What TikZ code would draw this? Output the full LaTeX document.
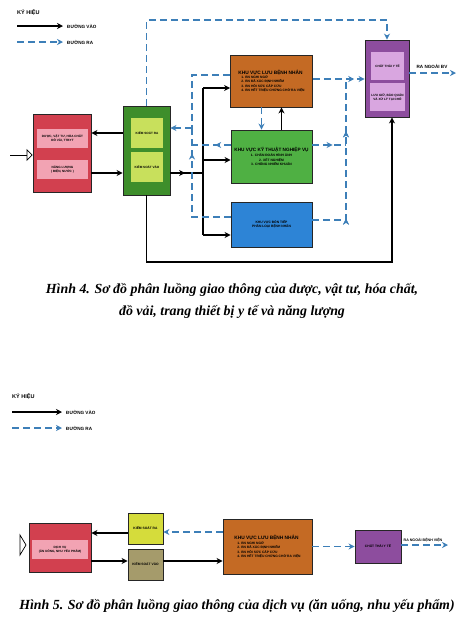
\documentclass[tikz,border=0pt]{standalone}
\usepackage{fontspec}
\setmainfont{Liberation Serif}
\newfontfamily\boxfont{Liberation Sans}
\usetikzlibrary{arrows.meta,calc,decorations.markings}
\definecolor{dashblue}{HTML}{3D7FB8}
\definecolor{redzone}{HTML}{D2404F}
\definecolor{pinkpanel}{HTML}{F2A3B3}
\definecolor{ctrlgreen}{HTML}{3E8E2B}
\definecolor{limepanel}{HTML}{C8E05C}
\definecolor{orzone}{HTML}{C46A24}
\definecolor{techgreen}{HTML}{4FB043}
\definecolor{bluezone}{HTML}{2D84D6}
\definecolor{purzone}{HTML}{8D4D9E}
\definecolor{purpanel}{HTML}{D9A6E0}
\definecolor{ksra}{HTML}{D5DC3B}
\definecolor{ksvao}{HTML}{A59B6B}

\begin{document}
\begin{tikzpicture}[
  x=1pt, y=-1pt,
  >=Stealth,
  zone/.style={draw=black!85, line width=0.9pt, inner sep=1pt, align=center,
    font=\boxfont\bfseries\fontsize{3.3}{4.2}\selectfont},
  panel/.style={inner sep=1pt, align=center, font=\boxfont\bfseries\fontsize{3.1}{4}\selectfont},
  keytitle/.style={inner sep=1pt, font=\boxfont\bfseries\fontsize{5.5}{6}\selectfont},
  keytxt/.style={inner sep=1pt, font=\boxfont\bfseries\fontsize{4.6}{5}\selectfont},
  caption/.style={inner sep=0pt, font=\bfseries\itshape\fontsize{13.9}{15}\selectfont},
  solidline/.style={draw=black, line width=1.2pt},
  solidarr/.style={solidline, -{Stealth[length=6pt,width=6pt]}},
  dashline/.style={draw=dashblue, line width=1.5pt, dash pattern=on 7pt off 4pt},
  dasharr/.style={dashline, -{Stealth[length=6pt,width=6pt]}},
  midarrow/.style={postaction={decorate}, decoration={markings,
    mark=at position #1 with {\arrow{Stealth[length=6pt,width=6pt]}}}}
]
  \useasboundingbox (0,0) rectangle (463,641);

  % ---- Hinh 4 ----
  \node[keytitle, anchor=west] (key4) at (16,13) {KÝ HIỆU};
  \node[keytxt, anchor=west] (kin4) at (66,26) {ĐƯỜNG VÀO};
  \node[keytxt, anchor=west] (kout4) at (66,42) {ĐƯỜNG RA};
  \coordinate (ks4) at (17,26);
  \coordinate (kd4) at (17,42);
  \draw[solidarr, shorten >=3pt] (ks4) -- (kin4.west);
  \draw[dasharr, shorten >=3pt] (kd4) -- (kout4.west);

  \node[zone, fill=redzone, minimum width=58pt, minimum height=78pt] (rb4) at (62,153) {};
  \node[panel, fill=pinkpanel, minimum width=51pt, minimum height=19pt] (rp1) at (62.5,138.5) {DƯỢC, VẬT TƯ, HÓA CHẤT\\ ĐỒ VẢI, TTBYT};
  \node[panel, fill=pinkpanel, minimum width=51pt, minimum height=19pt] (rp2) at (62.5,169.5) {NĂNG LƯỢNG\\ ( ĐIỆN, NƯỚC )};

  \node[zone, fill=ctrlgreen, minimum width=47pt, minimum height=89pt] (gb4) at (146.5,150.5) {};
  \node[panel, fill=limepanel, minimum width=32pt, minimum height=30pt] (gp1) at (147,133) {KIỂM SOÁT RA};
  \node[panel, fill=limepanel, minimum width=32pt, minimum height=30pt] (gp2) at (147,167) {KIỂM SOÁT VÀO};

  \node[zone, fill=orzone, minimum width=82pt, minimum height=52pt, align=left] (ob4) at (271.5,81)
    {{\fontsize{4.8}{6}\selectfont KHU VỰC LƯU BỆNH NHÂN}\\
     \hspace*{3pt}1. BN NGHI NGỜ\\ \hspace*{3pt}2. BN ĐÃ XÁC ĐỊNH NHIỄM\\
     \hspace*{3pt}3. BN HỒI SỨC CẤP CỨU\\ \hspace*{3pt}4. BN HẾT TRIỆU CHỨNG CHỜ RA VIỆN};
  \node[zone, fill=techgreen, minimum width=81pt, minimum height=53pt] (kb4) at (271.5,156.5)
    {{\fontsize{4.7}{6}\selectfont KHU VỰC KỸ THUẬT NGHIỆP VỤ}\\[1pt]
     1. CHẨN ĐOÁN HÌNH ẢNH\\ 2. XÉT NGHIỆM\\ 3. CHỐNG NHIỄM KHUẨN};
  \node[zone, fill=bluezone, minimum width=81pt, minimum height=45pt] (bb4) at (271.5,224.5)
    {KHU VỰC ĐÓN TIẾP\\ PHÂN LOẠI BỆNH NHÂN};

  \node[zone, fill=purzone, minimum width=44pt, minimum height=77pt] (pb4) at (387,78.5) {};
  \node[panel, fill=purpanel, minimum width=33pt, minimum height=28pt] (pp1) at (387.5,66) {CHẤT THẢI Y TẾ};
  \node[panel, fill=purpanel, minimum width=33pt, minimum height=28pt] (pp2) at (387.5,97) {LƯU GIỮ, BẢO QUẢN\\ VÀ XỬ LÝ TẠI CHỖ};
  \node[keytxt] (raout4) at (432,66) {RA NGOÀI BV};

  \coordinate (in4) at (10,155);
  \coordinate (busT) at (203,88);
  \coordinate (busM) at (203,160);
  \coordinate (busB) at (203,235);
  \coordinate (colL) at (192,128);
  \coordinate (colR) at (346,79);
  \coordinate (topR) at (387,20);
  \coordinate (botR) at (392,262);
  \coordinate (out4) at (456,73);
  \coordinate (gv4) at ($(gb4.east)+(0,22.5)$);
  \coordinate (oL) at ($(ob4.west)+(0,-6)$);
  \coordinate (kL) at ($(kb4.west)+(0,-11.5)$);
  \coordinate (bL) at ($(bb4.west)+(0,-7.5)$);
  \coordinate (oR) at ($(ob4.east)+(0,-2)$);
  \coordinate (kR) at ($(kb4.east)+(0,-11.5)$);
  \coordinate (bR) at ($(bb4.east)+(0,-4.5)$);

  \draw[line width=0.7pt, -{Triangle[open,length=6pt,width=12pt]}] (in4) -- (in4 -| rb4.west);
  \draw[solidarr] (gp1 -| gb4.west) -- (gp1 -| rb4.east);
  \draw[solidarr] ($(rb4.east)+(0,20)$) -- ($(gb4.west)+(0,22.5)$);
  \draw[solidline, midarrow=0.45] (gv4) -- (gv4 -| busT);
  \draw[solidline] (busT) -- (busB);
  \draw[solidarr] (busT) -- (busT -| ob4.west);
  \draw[solidarr] (busM) -- (busM -| kb4.west);
  \draw[solidarr] (busB) -- (busB -| bb4.west);
  \draw[solidarr] ($(kb4.north)+(10,0)$) -- ($(ob4.south)+(10,0)$);
  \draw[dasharr] ($(ob4.south)+(-10,0)$) -- ($(kb4.north)+(-10,0)$);
  \draw[solidarr] (gb4.south) |- (botR) -- (botR |- pb4.south);
  \draw[dasharr] (gb4.north) |- (topR) -- (pb4.north);

  % dashed returns to kiem soat ra
  \draw[dashline] (oL) -| (colL);
  \draw[dashline, midarrow=0.4] (kL) -- (kL -| colL);
  \draw[dashline, midarrow=0.8] (bL) -| (colL);
  \draw[dasharr] (colL) -- (colL -| gb4.east);

  % dashed to chat thai
  \draw[dasharr, midarrow=0.8] (oR) -- (colR) -- (colR -| pb4.west);
  \draw[dashline, midarrow=0.6] (kR) -- (kR -| colR);
  \draw[dashline, midarrow=0.2, midarrow=0.7] (bR) -| (colR);
  \draw[dasharr] ($(pb4.east)+(0,-5.5)$) -- (out4);

  \node[caption] (cap4a) at (232,290) {Hình 4. Sơ đồ phân luồng giao thông của dược, vật tư, hóa chất,};
  \node[caption] (cap4b) at (232,312) {đồ vải, trang thiết bị y tế và năng lượng};

  % ---- Hinh 5 ----
  \node[keytitle, anchor=west] (key5) at (11,397) {KÝ HIỆU};
  \node[keytxt, anchor=west] (kin5) at (65,412) {ĐƯỜNG VÀO};
  \node[keytxt, anchor=west] (kout5) at (65,428) {ĐƯỜNG RA};
  \coordinate (ks5) at (12,412);
  \coordinate (kd5) at (12,428);
  \draw[solidarr, shorten >=3pt] (ks5) -- (kin5.west);
  \draw[dasharr, shorten >=3pt] (kd5) -- (kout5.west);

  \node[zone, fill=redzone, minimum width=62pt, minimum height=49pt] (rb5) at (60,547.5) {};
  \node[panel, fill=pinkpanel, minimum width=56pt, minimum height=19pt] (rp5) at (60,549.5) {DỊCH VỤ\\ (ĂN UỐNG, NHU YẾU PHẨM)};
  \node[zone, fill=ksra, minimum width=35pt, minimum height=31pt] (kr5) at (145.5,528.5) {KIỂM SOÁT RA};
  \node[zone, fill=ksvao, minimum width=35pt, minimum height=31pt] (kv5) at (145.5,564.5) {KIỂM SOÁT VÀO};
  \node[zone, fill=orzone, minimum width=89pt, minimum height=55pt, align=left] (ob5) at (267.5,546.5)
    {{\fontsize{4.8}{6}\selectfont KHU VỰC LƯU BỆNH NHÂN}\\[1pt]
     \hspace*{3pt}1. BN NGHI NGỜ\\ \hspace*{3pt}2. BN ĐÃ XÁC ĐỊNH NHIỄM\\
     \hspace*{3pt}3. BN HỒI SỨC CẤP CỨU\\ \hspace*{3pt}4. BN HẾT TRIỆU CHỨNG CHỜ RA VIỆN};
  \node[zone, fill=purzone, minimum width=46pt, minimum height=33pt] (pb5) at (378,546.5) {CHẤT THẢI Y TẾ};
  \node[keytxt, font=\boxfont\bfseries\fontsize{3.6}{4}\selectfont] (raout5) at (423,540) {RA NGOÀI BỆNH VIỆN};
  \coordinate (out5) at (448,545);
  \coordinate (kr5w) at ($(kr5.west)+(0,4.5)$);
  \coordinate (kv5w) at ($(kv5.west)+(0,-3.5)$);
  \coordinate (kv5e) at ($(kv5.east)+(0,-3.5)$);
  \coordinate (ob5w) at ($(ob5.west)+(0,-14.5)$);

  \draw[line width=0.7pt] (20,535) -- (26,545) -- (20,555) -- cycle;
  \draw[solidarr] (kr5w) -- (kr5w -| rb5.east);
  \draw[solidarr] (kv5w -| rb5.east) -- (kv5w);
  \draw[solidarr] (kv5e) -- (kv5e -| ob5.west);
  \draw[dasharr] (ob5w) -- (ob5w -| kr5.east);
  \draw[dasharr] (ob5.east) -- (pb5.west);
  \draw[dasharr] ($(pb5.east)+(0,-1.5)$) -- (out5);

  \node[caption] (cap5) at (237,606) {Hình 5. Sơ đồ phân luồng giao thông của dịch vụ (ăn uống, nhu yếu phẩm)};
\end{tikzpicture}
\end{document}
